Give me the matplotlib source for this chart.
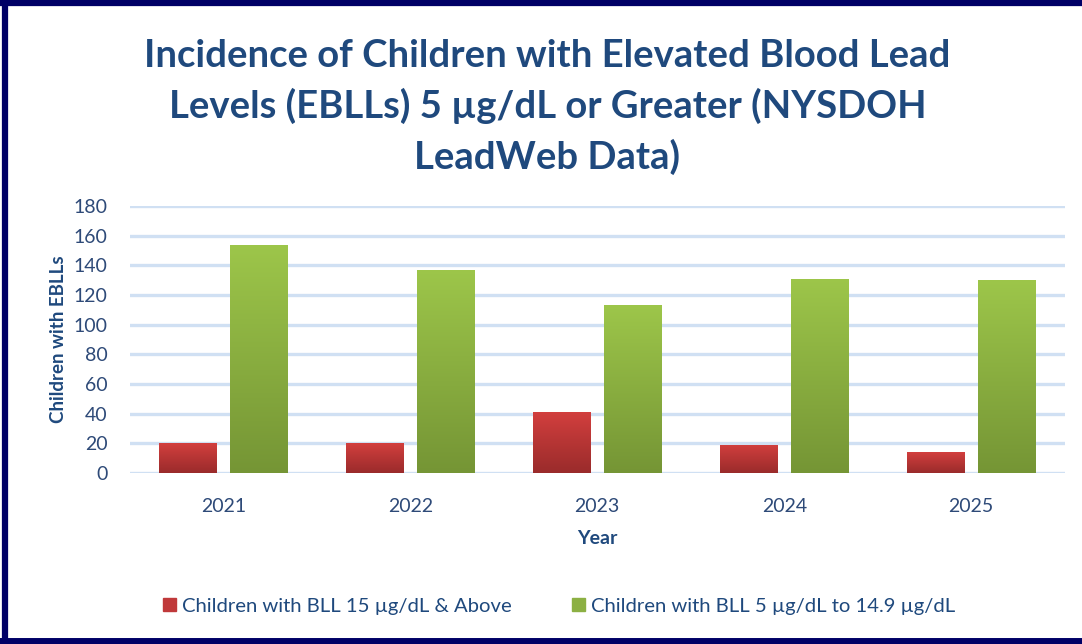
import matplotlib
matplotlib.use("Agg")
import matplotlib.pyplot as plt
import numpy as np
from matplotlib.lines import Line2D
from matplotlib.patches import Rectangle
from matplotlib.colors import LinearSegmentedColormap

years = ["2021", "2022", "2023", "2024", "2025"]
bll_15_above = [20, 20, 41, 19, 14]
bll_5_to_14_9 = [154, 137, 113, 131, 130]
series_labels = ["Children with BLL 15 µg/dL & Above",
                 "Children with BLL 5 µg/dL to 14.9 µg/dL"]
yticks = [0, 20, 40, 60, 80, 100, 120, 140, 160, 180]
title = "Incidence of Children with Elevated Blood Lead\nLevels (EBLLs) 5 µg/dL or Greater (NYSDOH\nLeadWeb Data)"

NAVY = "#1F497D"
TICK = "#2E4A78"
GRID = "#D0E0F3"
FONT = ["Lato", "DejaVu Sans"]

fig = plt.figure(figsize=(10.82, 6.44), dpi=100)
ax = fig.add_axes([0.120, 0.2655, 0.864, 0.4146])

x = np.arange(len(years))
w = 0.305
off = 0.19
red_bars = ax.bar(x - off, bll_15_above, width=w, color="#C0393A", zorder=3)
green_bars = ax.bar(x + off, bll_5_to_14_9, width=w, color="#8CB043", zorder=3)

red_cmap = LinearSegmentedColormap.from_list("r", ["#9A2B2B", "#D23F3E"])
green_cmap = LinearSegmentedColormap.from_list("g", ["#759535", "#9DC64A"])
grad = np.linspace(0, 1, 256).reshape(-1, 1)
for bars, cmap in ((red_bars, red_cmap), (green_bars, green_cmap)):
    for b in bars:
        bx, by, bw, bh = b.get_x(), b.get_y(), b.get_width(), b.get_height()
        im = ax.imshow(grad, cmap=cmap, origin="lower", aspect="auto",
                       extent=[bx, bx + bw, by, by + bh], zorder=3.5)
        im.set_clip_path(b)

ax.set_xlim(-0.5, len(years) - 0.5)
ax.set_ylim(0, 180)
ax.set_yticks(yticks)
ax.set_xticks(x)
ax.set_xticklabels(years)
ax.yaxis.grid(True, color=GRID, linewidth=2.4, zorder=0)
ax.set_axisbelow(True)
for s in ax.spines.values():
    s.set_visible(False)
ax.tick_params(axis="both", length=0, labelsize=14, labelcolor=TICK)
ax.tick_params(axis="x", pad=18)
ax.tick_params(axis="y", pad=16)
for lab in ax.get_xticklabels() + ax.get_yticklabels():
    lab.set_fontfamily(FONT)

ax.set_xlabel("Year", fontsize=14, fontweight="bold", color=NAVY,
              family=FONT, labelpad=11)
ax.set_ylabel("Children with EBLLs", fontsize=13.5, fontweight="bold",
              color=NAVY, family=FONT, labelpad=5)

fig.text(0.506, 0.728, title, ha="center", va="bottom", fontsize=27.5,
         fontweight="bold", color=NAVY, family=FONT, linespacing=1.5)

handles = [Rectangle((0, 0), 1, 1, color="#C0393A"),
           Rectangle((0, 0), 1, 1, color="#8CB043")]
leg = fig.legend(handles, series_labels, loc="center", bbox_to_anchor=(0.5166, 0.059),
                 ncol=2, frameon=False, handlelength=0.65,
                 handleheight=0.65, handletextpad=0.3, columnspacing=2.95,
                 prop={"family": FONT, "size": 14.6})
for t in leg.get_texts():
    t.set_color(NAVY)

# outer frame (left, top, bottom)
bc = "#000066"
fig.add_artist(Line2D([0.0045, 0.0045], [0, 1], transform=fig.transFigure, color=bc, linewidth=4.5))
fig.add_artist(Line2D([0, 1], [0.9955, 0.9955], transform=fig.transFigure, color=bc, linewidth=4.5))
fig.add_artist(Line2D([0, 1], [0.005, 0.005], transform=fig.transFigure, color=bc, linewidth=5))

fig.savefig("out.png", dpi=100, facecolor="white")
